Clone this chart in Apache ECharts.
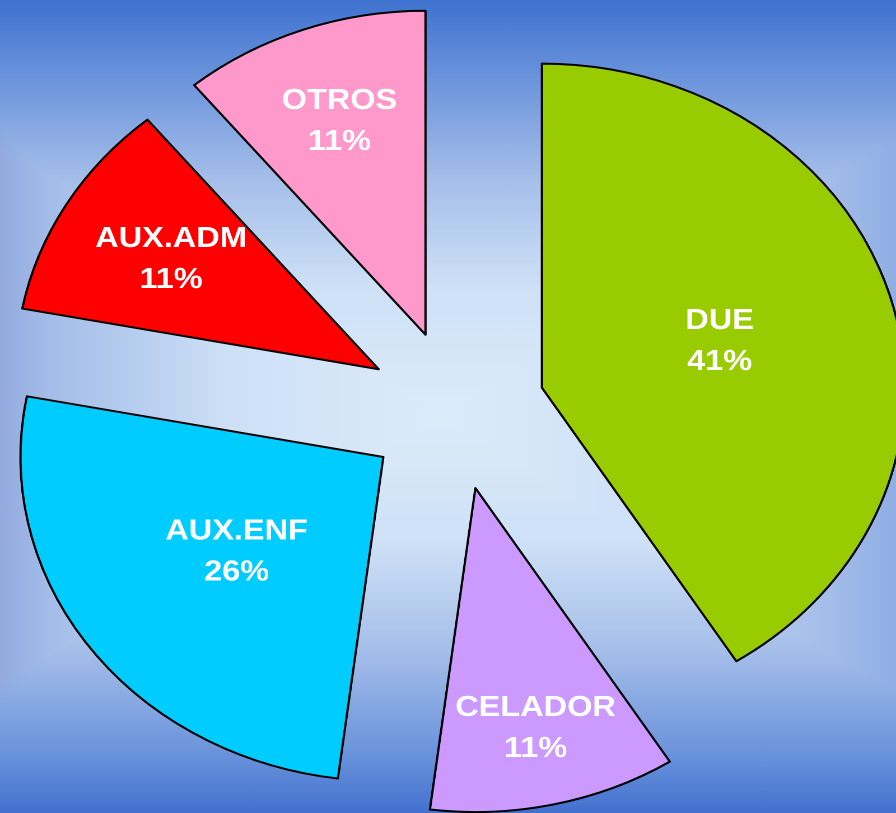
<!DOCTYPE html>
<html>
<head>
<meta charset="utf-8">
<script src="https://cdn.jsdelivr.net/npm/echarts@6/dist/echarts.min.js"></script>
<style>
html,body{margin:0;padding:0;width:896px;height:813px;overflow:hidden;}
#bg{position:absolute;left:0;top:0;width:896px;height:813px;
 background:
  linear-gradient(to bottom,#3F72CF 0%,#6690DA 8.7%,#A5BEE9 22%,#CDE0F6 35.2%,#DCEBFA 51%,#CDE0F6 66.9%,#A5BEE9 80.1%,#6690DA 93.4%,#4270CE 100%),
  linear-gradient(to right,#94AAE0 0%,#A5BEE9 6.1%,#CDE0F6 25.7%,#DCEBFA 49.1%,#CDE0F6 72.5%,#A5BEE9 92%,#8FAEE3 100%);
 background-blend-mode:darken;}
#chart{position:absolute;left:0;top:0;width:800px;height:813px;transform:scaleX(1.12);transform-origin:0 0;}
</style>
</head>
<body>
<div id="bg"></div>
<div id="chart"></div>
<script>
const categories = ['DUE', 'CELADOR', 'AUX.ENF', 'AUX.ADM', 'OTROS'];
const values = [41, 11, 26, 11, 11];
const colors = ['#99CC00', '#CC99FF', '#00CCFF', '#FF0000', '#FF99CC'];
const labelRadius = [0.51, 0.76, 0.5, 0.665, 0.70];

const R = 324;
const CX = 407, CY = 410;
const EXPLODE = 80;
const total = values.reduce((a, b) => a + b, 0);

const labelStyle = {
  show: true, position: 'inside', color: '#FFFFFF', fontWeight: 'bold', fontSize: 29, lineHeight: 41,
  fontFamily: '"Liberation Sans", Arial, sans-serif', align: 'center',
  formatter: p => p.name + '\n' + p.value + '%'
};
function gap(v) {
  return {value: v, name: '', itemStyle: {color: 'rgba(0,0,0,0)', borderWidth: 0}, label: {show: false}};
}

let acc = 0;
const series = categories.map((name, i) => {
  const before = acc;
  acc += values[i];
  const after = total - acc;
  const a = (before + values[i] / 2) / total * 2 * Math.PI;
  const cx = CX + EXPLODE * Math.sin(a);
  const cy = CY - EXPLODE * Math.cos(a);
  const lx = cx + labelRadius[i] * R * Math.sin(a);
  const ly = cy - labelRadius[i] * R * Math.cos(a);
  return {
    type: 'pie',
    name: name,
    center: [cx, cy],
    radius: R,
    startAngle: 90,
    clockwise: true,
    silent: true,
    avoidLabelOverlap: false,
    labelLine: {show: false},
    emphasis: {disabled: true},
    data: [
      gap(before),
      {name: name, value: values[i], itemStyle: {color: colors[i], borderColor: '#000000', borderWidth: 2}, label: labelStyle},
      gap(after)
    ],
    labelLayout: p => (p.dataIndex === 1 ? {x: lx, y: ly, align: 'center', verticalAlign: 'middle'} : {})
  };
});

const chart = echarts.init(document.getElementById('chart'), null, {renderer: 'canvas', devicePixelRatio: 2});
chart.setOption({
  backgroundColor: 'transparent',
  animation: false,
  series: series
});
</script>
</body>
</html>
